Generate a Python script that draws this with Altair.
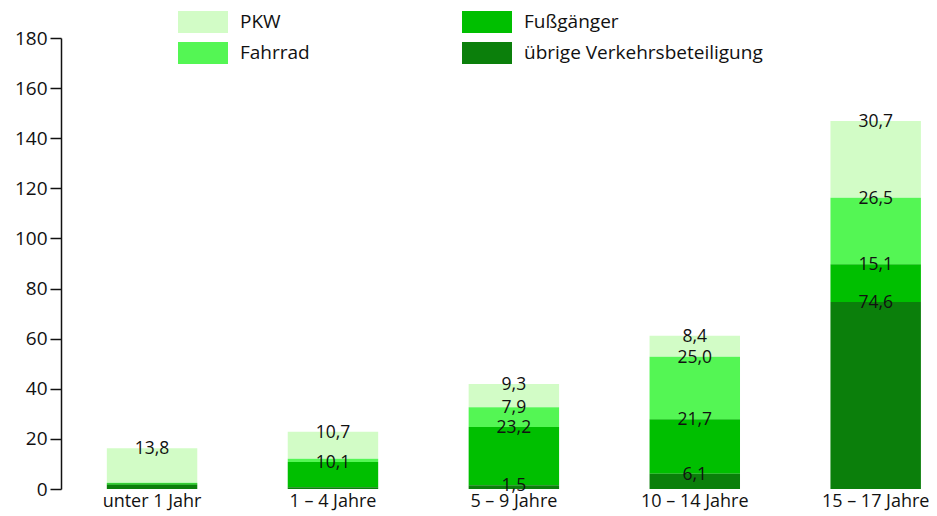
import altair as alt
import pandas as pd

categories = ["unter 1 Jahr", "1 – 4 Jahre", "5 – 9 Jahre", "10 – 14 Jahre", "15 – 17 Jahre"]
series = ["PKW", "Fahrrad", "Fußgänger", "übrige Verkehrsbeteiligung"]
pkw = [13.8, 10.7, 9.3, 8.4, 30.7]
fahrrad = [0.2, 1.3, 7.9, 25.0, 26.5]
fussgaenger = [0.6, 10.1, 23.2, 21.7, 15.1]
uebrige = [1.7, 0.7, 1.5, 6.1, 74.6]
# segments whose value is not printed in the original
unlabeled = [
    ("unter 1 Jahr", "Fahrrad"),
    ("unter 1 Jahr", "Fußgänger"),
    ("unter 1 Jahr", "übrige Verkehrsbeteiligung"),
    ("1 – 4 Jahre", "Fahrrad"),
    ("1 – 4 Jahre", "übrige Verkehrsbeteiligung"),
]
colors = {
    "PKW": "#d2fcc6",
    "Fahrrad": "#54f654",
    "Fußgänger": "#00bf00",
    "übrige Verkehrsbeteiligung": "#0b7f0b",
}
stack_order = {"übrige Verkehrsbeteiligung": 0, "Fußgänger": 1, "Fahrrad": 2, "PKW": 3}
legend_order = ["PKW", "Fußgänger", "Fahrrad", "übrige Verkehrsbeteiligung"]

values = {"PKW": pkw, "Fahrrad": fahrrad, "Fußgänger": fussgaenger,
          "übrige Verkehrsbeteiligung": uebrige}
rows = []
for s in series:
    for c, v in zip(categories, values[s]):
        rows.append({
            "cat": c, "series": s, "value": v, "ord": stack_order[s],
            "label": "" if (c, s) in unlabeled else f"{v:.1f}".replace(".", ","),
        })
df = pd.DataFrame(rows)

FONT = "Open Sans"

base = alt.Chart(df).transform_stack(
    stack="value", groupby=["cat"], sort=[alt.SortField("ord", order="ascending")],
    as_=["v0", "v1"],
)

xenc = alt.X("cat:N", sort=categories, title=None,
             scale=alt.Scale(paddingInner=0.5, paddingOuter=0.149, align=0.85),
             axis=alt.Axis(labelAngle=0, domain=False, ticks=False, labelPadding=3,
                           labelFontSize=18, labelFont=FONT, labelColor="#111"))

bars = base.mark_bar().encode(
    x=xenc,
    y=alt.Y("v0:Q", title=None,
            scale=alt.Scale(domain=[0, 180], nice=False),
            axis=alt.Axis(values=list(range(0, 181, 20)), grid=False, tickSize=11,
                          tickColor="#111", domainColor="#111", domainWidth=1.5,
                          tickWidth=1.5, labelPadding=3, labelFontSize=19,
                          labelFont=FONT, labelColor="#111")),
    y2="v1:Q",
    color=alt.Color("series:N",
                    scale=alt.Scale(domain=legend_order,
                                    range=[colors[s] for s in legend_order]),
                    legend=alt.Legend(
                        title=None, orient="none", legendX=117, legendY=-27,
                        columns=2, direction="horizontal",
                        symbolType="M-1,-0.44H1V0.44H-1Z", symbolSize=2500,
                        symbolStrokeWidth=0, symbolOpacity=1,
                        clipHeight=22, rowPadding=9, columnPadding=152,
                        labelOffset=12, labelFontSize=19, labelFont=FONT,
                        labelColor="#111", labelLimit=400)),
)

texts = base.mark_text(baseline="middle", dy=1, fontSize=17.5, font=FONT,
                       color="#111").encode(
    x=alt.X("cat:N", sort=categories),
    y="v1:Q",
    text="label:N",
)

chart = alt.layer(bars, texts).properties(
    width=868, height=451,
    autosize=alt.AutoSizeParams(type="none"),
    padding={"left": 53, "top": 30, "right": 0, "bottom": 26},
).configure_view(stroke=None)

chart.save("out.html", embed_options={"renderer": "svg", "actions": False})
